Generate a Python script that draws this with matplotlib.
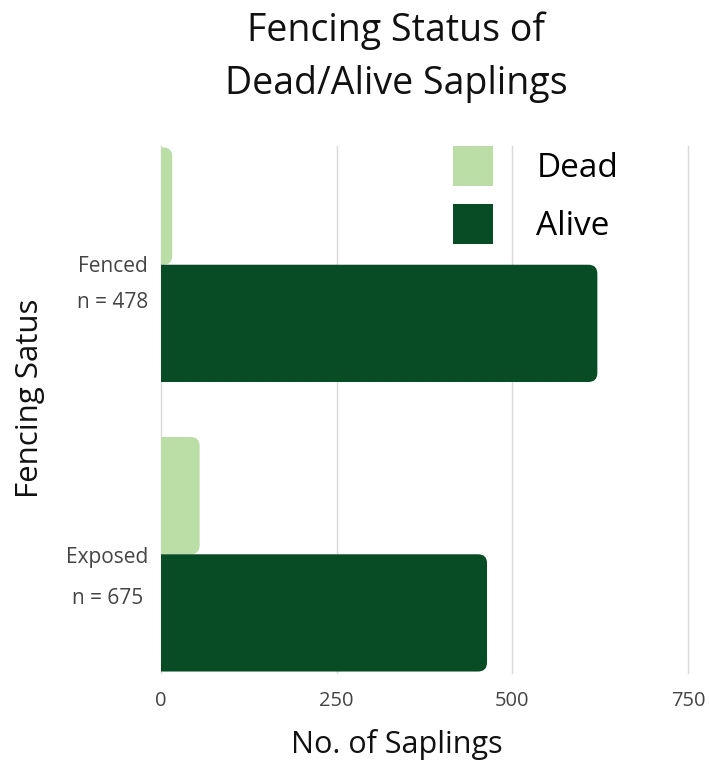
import matplotlib
matplotlib.use("Agg")
import matplotlib.pyplot as plt
from matplotlib.patches import FancyBboxPatch, Patch
import matplotlib.transforms as mtransforms
import numpy as np

plt.rcParams['font.family'] = ['Open Sans', 'DejaVu Sans']

# Data
categories = ["Fenced", "Exposed"]
sample_sizes = [478, 675]
dead = [16, 55]
alive = [621, 464]
series_names = ["Dead", "Alive"]
series_colors = ["#badea6", "#084c26"]
x_ticks = [0, 250, 500, 750]

W, H = 709, 762
fig = plt.figure(figsize=(W / 100, H / 100), dpi=100)
ax = fig.add_axes([161 / W, 1 - 673 / H, (688 - 161) / W, (673 - 146) / H])

bar_h = 0.405
ypos = np.arange(len(categories))
bars_dead = ax.barh(ypos - bar_h / 2, dead, height=bar_h, color=series_colors[0], zorder=3)
bars_alive = ax.barh(ypos + bar_h / 2, alive, height=bar_h, color=series_colors[1], zorder=3)

ax.set_xlim(0, 750)
ax.set_ylim(len(categories) - 1 + bar_h * 1.0125, -bar_h * 1.0125)

# Replace the square bar ends with rounded ones (left side is clipped at x=0)
fig.canvas.draw()
px_x = abs(ax.transData.transform((1, 0))[0] - ax.transData.transform((0, 0))[0])
px_y = abs(ax.transData.transform((0, 1))[1] - ax.transData.transform((0, 0))[1])
radius_px = 9
r_x = radius_px / px_x
aspect = px_x / px_y
for container in (bars_dead, bars_alive):
    for rect in container:
        x0, y0 = rect.get_x(), rect.get_y()
        w, h = rect.get_width(), rect.get_height()
        rect.set_visible(False)
        patch = FancyBboxPatch((x0 - 3 * r_x, y0), w + 3 * r_x, h,
                               boxstyle=f"round,pad=0,rounding_size={r_x}",
                               mutation_aspect=aspect,
                               facecolor=rect.get_facecolor(), edgecolor="none",
                               zorder=3, clip_on=True)
        ax.add_patch(patch)

# Grid and spines
ax.set_xticks(x_ticks)
for s in ax.spines.values():
    s.set_visible(False)
for xt in x_ticks:
    ax.axvline(xt, color="#d9d9d9", linewidth=1.0, zorder=1, clip_on=False)
ax.tick_params(axis="x", length=0, pad=13, labelsize=14.5, labelcolor="#444444")
ax.tick_params(axis="y", length=0, pad=9, labelsize=15, labelcolor="#444444")

ax.set_yticks(ypos)
ax.set_yticklabels([f"{c}\nn = {n}" for c, n in zip(categories, sample_sizes)])
label_spacing = [1.95, 2.25]
label_shift_px = [10, 11]
for lbl, ls, sh in zip(ax.get_yticklabels(), label_spacing, label_shift_px):
    lbl.set_linespacing(ls)
    lbl.set_multialignment("center")
    lbl.set_transform(lbl.get_transform() +
                      mtransforms.ScaledTranslation(0, -sh / 100, fig.dpi_scale_trans))

# Titles and axis labels
fig.text(396 / W, 1 - 57 / H, "Fencing Status of\nDead/Alive Saplings",
         ha="center", va="center", fontsize=27, linespacing=1.5, color="#111111")
fig.text(397 / W, 1 - 745 / H, "No. of Saplings", ha="center", va="center",
         fontsize=22, color="#111111")
fig.text(30 / W, 1 - 398 / H, "Fencing Satus", ha="center", va="center",
         rotation=90, fontsize=22.5, color="#111111")

handles = [Patch(facecolor=c, edgecolor="none", label=n)
           for c, n in zip(series_colors, series_names)]
leg = ax.legend(handles=handles, loc="upper left", bbox_to_anchor=(453 / W, 1 - 146 / H),
                bbox_transform=fig.transFigure, frameon=False, fontsize=24,
                handlelength=1.2, handleheight=1.46, handletextpad=1.3,
                labelspacing=0.55, borderpad=0, borderaxespad=0)

fig.savefig("out.png", dpi=100)
